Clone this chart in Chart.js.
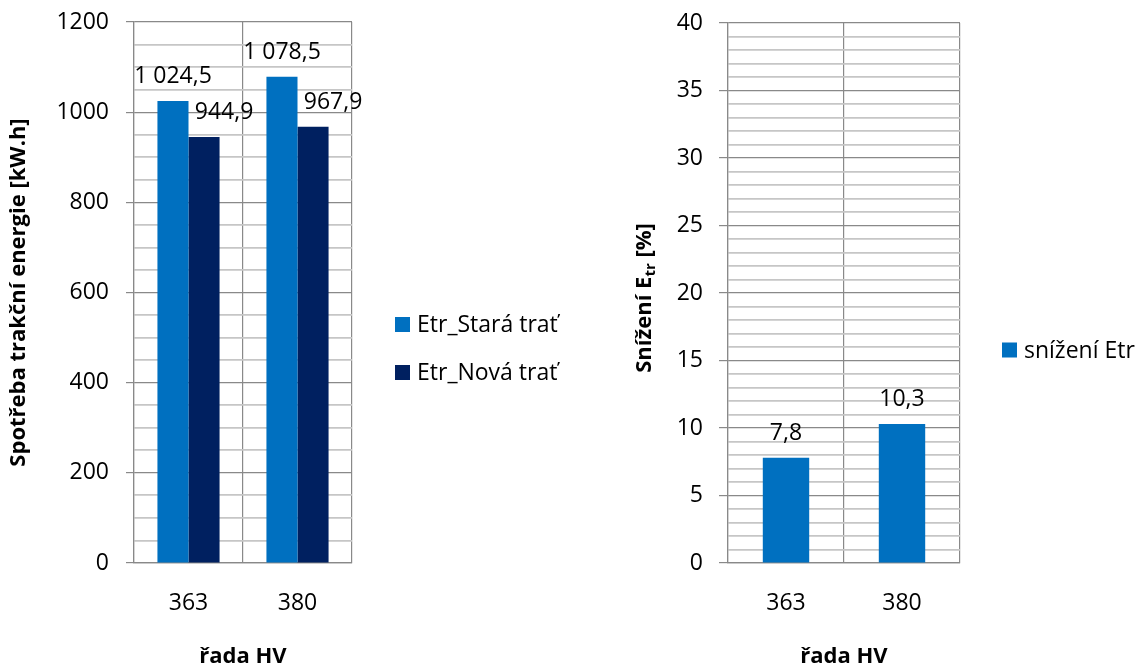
<!DOCTYPE html>
<html>
<head>
<meta charset="utf-8">
<script src="https://cdn.jsdelivr.net/npm/chart.js@4/dist/chart.umd.min.js"></script>
<style>
  html, body { margin: 0; padding: 0; background: #fff; }
  #wrap { position: relative; width: 1146px; height: 671px; }
  .panel { position: absolute; top: 0; width: 573px; height: 671px; }
</style>
</head>
<body>
<div id="wrap">
  <div class="panel" style="left:0"><canvas id="energy" width="573" height="671"></canvas></div>
  <div class="panel" style="left:573px"><canvas id="reduction" width="573" height="671"></canvas></div>
</div>
<script>
// Locomotive series
const categories = ['363', '380'];
// Traction energy consumption [kW.h]
const oldTrack = [1024.5, 1078.5];
const newTrack = [944.9, 967.9];
// Energy reduction [%]
const reduction = [7.8, 10.3];

const seriesNames = ['Etr_Stará trať', 'Etr_Nová trať'];
const reductionName = 'snížení Etr';
const energyAxisTitle = 'Spotřeba trakční energie [kW.h]';
const reductionAxisTitle = [['Snížení E', false], ['tr', true], [' [%]', false]];
const categoryAxisTitle = 'řada HV';

const FONT = "'Open Sans', 'Noto Sans', sans-serif";
const TEXT_SIZE = 23;
const TITLE_SIZE = 22;
const MAJOR = '#898989';
const MINOR = '#c6c6c6';

// "1 024,5" style number formatting
function czNum(v) {
  const [i, d] = v.toFixed(1).split('.');
  return i.replace(/\B(?=(\d{3})+(?!\d))/g, ' ') + ',' + d;
}

// Value labels above each bar
const valueLabels = {
  id: 'valueLabels',
  afterDatasetsDraw(chart, args, opts) {
    const ctx = chart.ctx;
    ctx.save();
    ctx.font = `${TEXT_SIZE}px ${FONT}`;
    ctx.fillStyle = '#000';
    ctx.textAlign = 'center';
    ctx.textBaseline = 'alphabetic';
    chart.data.datasets.forEach((ds, i) => {
      const meta = chart.getDatasetMeta(i);
      const dx = (opts.shift || [])[i] || 0;
      meta.data.forEach((el, j) => {
        ctx.fillText(czNum(ds.data[j]), el.x + dx, el.y - opts.lift);
      });
    });
    ctx.restore();
  }
};

// Legend placed to the right of the plot area
const sideLegend = {
  id: 'sideLegend',
  afterDraw(chart, args, opts) {
    const { ctx, chartArea } = chart;
    const items = chart.data.datasets;
    const x0 = chartArea.right + opts.gapX;
    const y0 = opts.centerY - (items.length - 1) * opts.spacing / 2;
    ctx.save();
    ctx.font = `${TEXT_SIZE}px ${FONT}`;
    ctx.textAlign = 'left';
    ctx.textBaseline = 'middle';
    items.forEach((ds, i) => {
      const y = y0 + i * opts.spacing;
      ctx.fillStyle = ds.backgroundColor;
      ctx.fillRect(x0, y - 7.5, 15, 15);
      ctx.fillStyle = '#000';
      ctx.fillText(ds.label, x0 + 22, y + 1);
    });
    ctx.restore();
  }
};

// Rotated axis title with a subscript part
const subscriptTitle = {
  id: 'subscriptTitle',
  afterDraw(chart, args, opts) {
    if (!opts.parts) return;
    const { ctx, chartArea } = chart;
    const big = `bold ${TITLE_SIZE}px ${FONT}`, small = `bold 15px ${FONT}`;
    ctx.save();
    let total = 0;
    const widths = opts.parts.map(([t, sub]) => {
      ctx.font = sub ? small : big;
      const w = ctx.measureText(t).width;
      total += w;
      return w;
    });
    ctx.translate(opts.x, (chartArea.top + chartArea.bottom) / 2 + opts.dy);
    ctx.rotate(-Math.PI / 2);
    ctx.fillStyle = '#000';
    ctx.textAlign = 'left';
    ctx.textBaseline = 'alphabetic';
    let x = -total / 2;
    opts.parts.forEach(([t, sub], k) => {
      ctx.font = sub ? small : big;
      ctx.fillText(t, x, sub ? 12 : 8);
      x += widths[k];
    });
    ctx.restore();
  }
};

function valueScale(max, step, major, width, tickLen, pad, title) {
  return {
    type: 'linear',
    min: 0,
    max: max,
    afterFit: s => { s.width = width; s.paddingTop = 0; s.paddingBottom = 0; },
    ticks: {
      stepSize: step,
      autoSkip: false,
      padding: pad,
      color: '#000',
      font: { family: FONT, size: TEXT_SIZE },
      callback: v => (Math.round(v / major) * major === v ? String(v) : '')
    },
    grid: {
      color: c => (c.tick && c.tick.value % major === 0 ? MAJOR : MINOR),
      lineWidth: c => (c.tick && c.tick.value % major === 0 ? 1.2 : 1.8),
      tickLength: tickLen,
      tickColor: c => (c.tick && c.tick.value % major === 0 ? MAJOR : 'rgba(0,0,0,0)'),
      tickWidth: 1.2
    },
    border: { color: MAJOR, width: 1.2 },
    title: title ? {
      display: true,
      text: title,
      color: '#000',
      font: { family: FONT, size: TITLE_SIZE, weight: 'bold' },
      padding: { top: 6, bottom: 0 }
    } : { display: false }
  };
}

function categoryScale() {
  return {
    type: 'category',
    afterFit: s => { s.height = 108; s.paddingLeft = 0; s.paddingRight = 0; },
    ticks: { padding: 27, color: '#000', font: { family: FONT, size: TEXT_SIZE } },
    grid: { offset: true, color: MAJOR, lineWidth: 1.2, drawTicks: false },
    border: { color: MAJOR, width: 1.2 },
    title: {
      display: true,
      text: categoryAxisTitle,
      color: '#000',
      font: { family: FONT, size: TITLE_SIZE, weight: 'bold' },
      padding: { top: 0, bottom: 1 }
    }
  };
}

new Chart(document.getElementById('energy'), {
  type: 'bar',
  data: {
    labels: categories,
    datasets: [
      { label: seriesNames[0], data: oldTrack, backgroundColor: '#0070C0' },
      { label: seriesNames[1], data: newTrack, backgroundColor: '#002060' }
    ]
  },
  options: {
    responsive: false,
    animation: false,
    devicePixelRatio: 1,
    layout: { padding: { left: 0, top: 22, right: 221, bottom: 0 } },
    datasets: { bar: { categoryPercentage: 0.57, barPercentage: 1.0 } },
    scales: {
      x: categoryScale(),
      y: valueScale(1200, 50, 200, 134, 8, 17, energyAxisTitle)
    },
    plugins: {
      legend: { display: false },
      tooltip: { enabled: false },
      valueLabels: { shift: [0, 20], lift: 18 },
      sideLegend: { gapX: 43, centerY: 348.5, spacing: 48 }
    }
  },
  plugins: [valueLabels, sideLegend]
});

new Chart(document.getElementById('reduction'), {
  type: 'bar',
  data: {
    labels: categories,
    datasets: [
      { label: reductionName, data: reduction, backgroundColor: '#0070C0' }
    ]
  },
  options: {
    responsive: false,
    animation: false,
    devicePixelRatio: 1,
    layout: { padding: { left: 0, top: 23, right: 186, bottom: 0 } },
    datasets: { bar: { categoryPercentage: 0.4, barPercentage: 1.0 } },
    scales: {
      x: categoryScale(),
      y: valueScale(40, 1, 5, 155, 9, 16, null)
    },
    plugins: {
      legend: { display: false },
      tooltip: { enabled: false },
      valueLabels: { shift: [0], lift: 18 },
      sideLegend: { gapX: 42, centerY: 350, spacing: 48 },
      subscriptTitle: { x: 70, dy: 5, parts: reductionAxisTitle }
    }
  },
  plugins: [valueLabels, sideLegend, subscriptTitle]
});
</script>
</body>
</html>
